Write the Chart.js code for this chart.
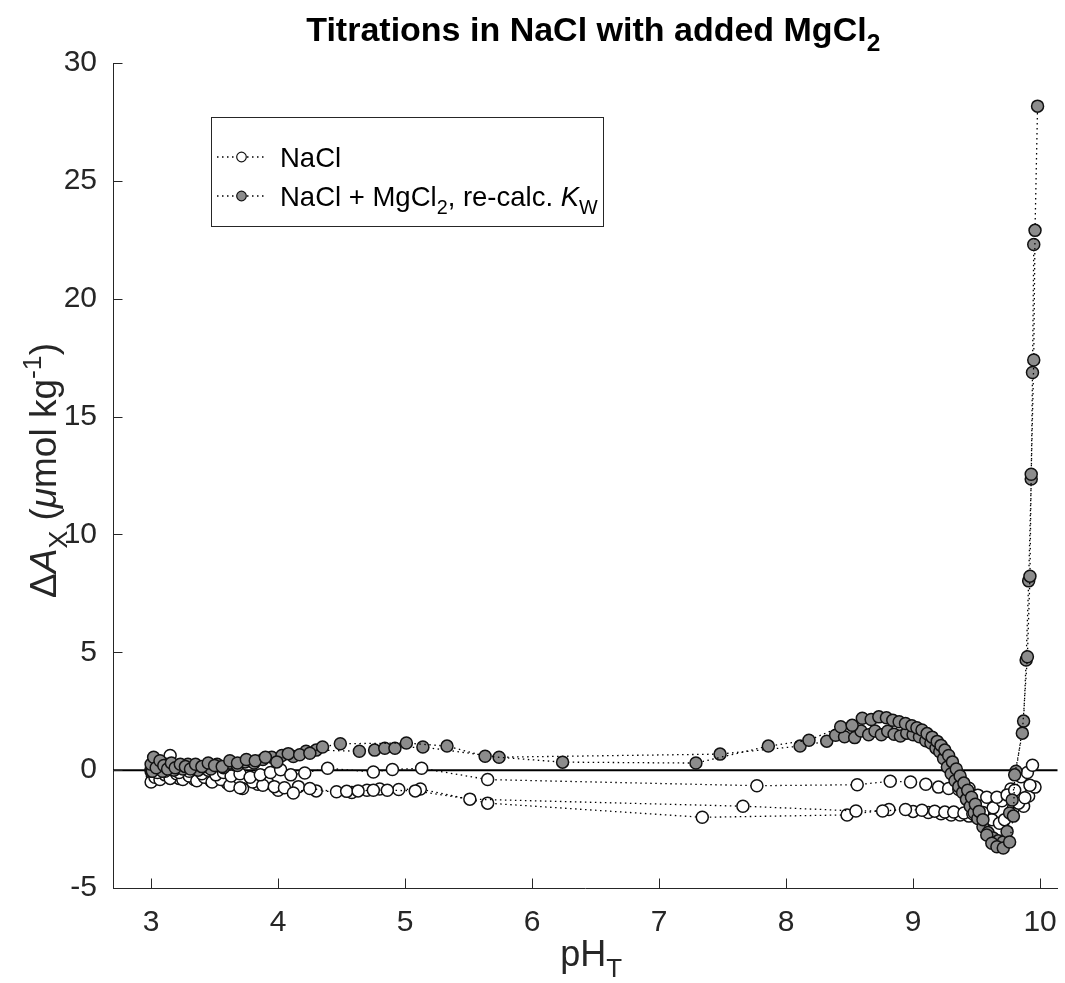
<!DOCTYPE html>
<html>
<head>
<meta charset="utf-8">
<script src="https://cdn.jsdelivr.net/npm/chart.js@4.4.1/dist/chart.umd.min.js"></script>
<style>
  html, body { margin: 0; padding: 0; background: #fff; }
  canvas { display: block; }
</style>
</head>
<body>
<canvas id="titration" width="1065" height="983"></canvas>
<script>
// pH_T values and Delta A_X (umol/kg) for each titration run
const naclX1 = [3.00, 3.02, 3.05, 3.08, 3.11, 3.15, 3.18, 3.22, 3.26, 3.30, 3.35, 3.40, 3.45, 3.51, 3.57, 3.63, 3.70, 3.78, 3.86, 3.94,
  4.02, 4.10, 4.21, 4.39, 4.75, 4.90, 5.13, 5.65, 7.77, 8.56, 8.82, 8.98, 9.10, 9.20, 9.28, 9.36, 9.44, 9.51, 9.58, 9.66,
  9.74, 9.80, 9.85, 9.90, 9.94];
const naclY1 = [-0.05, 0.15, -0.10, 0.10, -0.05, 0.62, 0.05, -0.10, 0.10, -0.05, 0.05, -0.15, 0.00, -0.20, -0.10, -0.25, -0.15, -0.30, -0.20, -0.10,
  0.02, -0.20, -0.12, 0.08, -0.08, 0.03, 0.08, -0.40, -0.66, -0.62, -0.47, -0.50, -0.60, -0.72, -0.78, -0.82, -0.77, -1.06, -1.15, -1.15,
  -1.05, -0.85, -0.28, -0.10, 0.21];

const naclX2 = [3.00, 3.03, 3.07, 3.11, 3.15, 3.20, 3.25, 3.30, 3.36, 3.42, 3.48, 3.55, 3.62, 3.70, 3.80, 3.88, 3.97, 4.05, 4.12, 4.25,
  4.46, 4.54, 4.63, 4.75, 4.86, 5.08, 5.51, 7.66, 8.55, 8.76, 8.94, 9.07, 9.17, 9.25, 9.32, 9.40, 9.47, 9.55, 9.63, 9.70,
  9.77, 9.83, 9.88, 9.92];
const naclY2 = [-0.50, -0.30, -0.40, -0.20, -0.35, -0.15, -0.40, -0.25, -0.45, -0.30, -0.50, -0.40, -0.65, -0.75, -0.50, -0.64, -0.70, -0.75, -0.97, -0.78,
  -0.92, -0.90, -0.88, -0.85, -0.85, -0.88, -1.23, -1.53, -1.73, -1.73, -1.67, -1.70, -1.74, -1.78, -1.78, -1.82, -1.85, -1.80, -1.60, -1.30,
  -0.80, -1.40, -1.17, -0.64];

const naclX3 = [3.01, 3.04, 3.08, 3.12, 3.17, 3.22, 3.28, 3.34, 3.40, 3.47, 3.54, 3.60, 3.72, 3.84, 3.92, 4.00, 4.16, 4.30, 4.58, 4.70,
  4.80, 4.95, 5.12, 5.65, 7.34, 8.48, 8.81, 9.00, 9.12, 9.22, 9.30, 9.37, 9.44, 9.50, 9.57, 9.62, 9.68, 9.72, 9.79, 9.87,
  9.91, 9.96];
const naclY3 = [-0.25, -0.10, -0.30, -0.05, -0.20, -0.35, -0.15, -0.40, -0.25, -0.45, -0.30, -0.55, -0.78, -0.60, -0.55, -0.85, -0.70, -0.88, -0.95, -0.85,
  -0.80, -0.82, -0.80, -1.40, -2.00, -1.90, -1.67, -1.75, -1.80, -1.85, -1.90, -1.90, -1.95, -2.00, -2.05, -2.10, -2.25, -2.10, -1.60, -1.53,
  -1.10, -0.72];

const mgX1 = [3.00, 3.02, 3.04, 3.07, 3.10, 3.13, 3.16, 3.19, 3.23, 3.27, 3.31, 3.35, 3.40, 3.45, 3.50, 3.56, 3.62, 3.68, 3.75, 3.82,
  3.90, 3.99, 4.08, 4.17, 4.25, 4.35, 4.49, 5.01, 5.33, 5.63, 6.24, 7.29, 7.86, 8.18, 8.43, 8.52, 8.60, 8.67, 8.73, 8.79,
  8.84, 8.89, 8.94, 8.99, 9.03, 9.07, 9.11, 9.15, 9.19, 9.22, 9.25, 9.28, 9.31, 9.34, 9.37, 9.40, 9.43, 9.46, 9.49, 9.52,
  9.55, 9.58, 9.62, 9.66, 9.71, 9.76, 9.79, 9.80, 9.86, 9.90, 9.92, 9.93, 9.95, 9.96, 9.98];
const mgY1 = [0.25, 0.55, 0.10, 0.40, 0.20, 0.05, 0.30, 0.10, 0.25, 0.15, 0.05, 0.25, 0.15, 0.30, 0.20, 0.15, 0.40, 0.30, 0.45, 0.40,
  0.55, 0.35, 0.70, 0.65, 0.72, 0.98, 1.12, 1.15, 1.02, 0.59, 0.34, 0.30, 1.02, 1.27, 1.84, 1.90, 2.20, 2.15, 2.26, 2.22,
  2.12, 2.05, 1.98, 1.88, 1.80, 1.70, 1.55, 1.40, 1.22, 1.05, 0.85, 0.62, 0.35, 0.05, -0.25, -0.55, -0.85, -1.15, -1.45, -1.75,
  -2.10, -2.75, -3.10, -3.25, -3.30, -3.05, -1.95, -0.20, 1.57, 4.81, 8.23, 12.55, 17.40, 22.90, 28.17];

const mgX2 = [3.00, 3.01, 3.03, 3.06, 3.09, 3.12, 3.15, 3.18, 3.21, 3.25, 3.29, 3.33, 3.37, 3.42, 3.47, 3.52, 3.57, 3.62, 3.68, 3.74,
  3.81, 3.88, 3.95, 4.03, 4.12, 4.22, 4.30, 4.64, 4.76, 4.84, 4.92, 5.14, 5.74, 7.48, 8.11, 8.32, 8.39, 8.46, 8.54, 8.59,
  8.65, 8.70, 8.75, 8.80, 8.85, 8.90, 8.95, 9.00, 9.05, 9.10, 9.14, 9.18, 9.21, 9.24, 9.27, 9.30, 9.33, 9.36, 9.39, 9.42,
  9.45, 9.48, 9.51, 9.55, 9.59, 9.63, 9.67, 9.71, 9.74, 9.76, 9.78, 9.81, 9.87, 9.89, 9.91, 9.93, 9.94, 9.95];
const mgY2 = [0.05, -0.05, 0.30, 0.15, -0.05, 0.25, 0.10, 0.00, 0.20, 0.05, 0.25, 0.10, 0.00, 0.15, 0.05, 0.25, 0.10, 0.30, 0.20, 0.35,
  0.30, 0.45, 0.55, 0.62, 0.58, 0.80, 0.85, 0.80, 0.85, 0.93, 0.93, 0.98, 0.55, 0.68, 1.02, 1.23, 1.48, 1.42, 1.38, 1.66,
  1.50, 1.66, 1.50, 1.65, 1.52, 1.45, 1.57, 1.50, 1.42, 1.25, 1.15, 0.93, 0.78, 0.49, 0.13, -0.15, -0.45, -0.70, -0.95, -1.24,
  -1.53, -1.81, -2.05, -2.40, -2.65, -2.88, -3.00, -3.05, -2.60, -1.82, -1.27, -0.05, 2.08, 4.67, 8.03, 12.35, 16.87, 22.30];

const xTicks = [3, 4, 5, 6, 7, 8, 9, 10];
const yTicks = [-5, 0, 5, 10, 15, 20, 25, 30];

const FONT = '"Liberation Sans", Arial, Helvetica, sans-serif';
const INK = '#262626';
const GREY_FILL = '#8c8c8c';

const toPoints = (xs, ys) => xs.map((x, i) => ({ x, y: ys[i] }));

function runDataset(xs, ys, fill, order) {
  return {
    data: toPoints(xs, ys),
    showLine: true,
    borderColor: '#000',
    borderWidth: 1.3,
    borderDash: [1.5, 3.5],
    pointRadius: 6,
    pointBorderWidth: 1.5,
    pointBackgroundColor: fill,
    pointBorderColor: '#111',
    tension: 0,
    order
  };
}

// draws a run of text pieces; pieces may be italic, subscript or superscript
function richText(ctx, pieces, x, y, size, bold, align) {
  const fontOf = p => {
    const s = (p.sub || p.sup) ? size * 0.72 : size;
    return (p.it ? 'italic ' : '') + (bold ? 'bold ' : '') + s + 'px ' + FONT;
  };
  let total = 0;
  pieces.forEach(p => { ctx.font = fontOf(p); total += ctx.measureText(p.t).width; });
  let cx = align === 'left' ? x : x - total / 2;
  ctx.textBaseline = 'alphabetic';
  ctx.textAlign = 'left';
  pieces.forEach(p => {
    ctx.font = fontOf(p);
    const dy = p.sub ? size * 0.3 : p.sup ? -size * 0.4 : 0;
    ctx.fillText(p.t, cx, y + dy);
    cx += ctx.measureText(p.t).width;
  });
}

const decorations = {
  id: 'decorations',
  beforeDatasetsDraw(chart) {
    const { ctx, chartArea: a, scales: { y } } = chart;
    const y0 = y.getPixelForValue(0);
    ctx.save();
    ctx.strokeStyle = '#000';
    ctx.lineWidth = 2;
    ctx.beginPath();
    ctx.moveTo(a.left, y0);
    ctx.lineTo(a.right, y0);
    ctx.stroke();
    ctx.restore();
  },
  afterDraw(chart) {
    const { ctx, chartArea: a, scales: { x, y } } = chart;
    ctx.save();
    // inward tick marks
    ctx.strokeStyle = INK;
    ctx.lineWidth = 1;
    ctx.beginPath();
    xTicks.forEach(v => {
      const px = Math.round(x.getPixelForValue(v)) + 0.5;
      ctx.moveTo(px, a.bottom);
      ctx.lineTo(px, a.bottom - 9.5);
    });
    yTicks.forEach(v => {
      const py = Math.round(y.getPixelForValue(v)) + 0.5;
      ctx.moveTo(a.left, py);
      ctx.lineTo(a.left + 9.5, py);
    });
    ctx.stroke();

    ctx.fillStyle = '#000';
    // title
    richText(ctx, [{ t: 'Titrations in NaCl with added MgCl' }, { t: '2', sub: true }],
      (a.left + a.right) / 2 + 8, 41, 34, true);

    ctx.fillStyle = INK;
    // x label
    richText(ctx, [{ t: 'pH' }, { t: 'T', sub: true }], (a.left + a.right) / 2 + 6, 966, 36, false);

    // y label
    ctx.save();
    ctx.translate(56, (a.top + a.bottom) / 2 - 5);
    ctx.rotate(-Math.PI / 2);
    richText(ctx, [
      { t: '\u0394' }, { t: 'A', it: true }, { t: 'X', sub: true },
      { t: ' (' }, { t: '\u03bc', it: true }, { t: 'mol kg' }, { t: '-1', sup: true }, { t: ')' }
    ], 0, 0, 37, false);
    ctx.restore();

    // legend box
    const bx = 211, by = 117, bw = 392, bh = 109;
    ctx.fillStyle = '#fff';
    ctx.fillRect(bx, by, bw, bh);
    ctx.strokeStyle = INK;
    ctx.lineWidth = 1;
    ctx.strokeRect(bx + 0.5, by + 0.5, bw, bh);

    const rows = [
      { yy: 157, fill: '#fff', text: [{ t: 'NaCl' }] },
      { yy: 196, fill: GREY_FILL, text: [
        { t: 'NaCl + MgCl' }, { t: '2', sub: true }, { t: ', re-calc. ' }, { t: 'K', it: true }, { t: 'W', sub: true }
      ] }
    ];
    rows.forEach(r => {
      ctx.strokeStyle = '#000';
      ctx.lineWidth = 1.3;
      ctx.setLineDash([1.5, 3.5]);
      ctx.beginPath();
      ctx.moveTo(217, r.yy);
      ctx.lineTo(266, r.yy);
      ctx.stroke();
      ctx.setLineDash([]);
      ctx.beginPath();
      ctx.arc(241.5, r.yy, 4.8, 0, Math.PI * 2);
      ctx.fillStyle = r.fill;
      ctx.fill();
      ctx.lineWidth = 1.2;
      ctx.strokeStyle = '#111';
      ctx.stroke();
      ctx.fillStyle = '#000';
      richText(ctx, r.text, 280, r.yy + 10, 27.5, false, 'left');
    });
    ctx.restore();
  }
};

const tickStyle = { font: { family: FONT, size: 30 }, color: INK };
const noPadding = s => { s.paddingLeft = 0; s.paddingRight = 0; s.paddingTop = 0; s.paddingBottom = 0; };

new Chart(document.getElementById('titration'), {
  type: 'scatter',
  data: {
    datasets: [
      runDataset(naclX1, naclY1, '#fff', 2),
      runDataset(naclX2, naclY2, '#fff', 2),
      runDataset(naclX3, naclY3, '#fff', 2),
      runDataset(mgX1, mgY1, GREY_FILL, 1),
      runDataset(mgX2, mgY2, GREY_FILL, 1)
    ]
  },
  options: {
    responsive: false,
    animation: false,
    layout: { padding: { top: 63, right: 3, bottom: 0, left: 0 } },
    plugins: { legend: { display: false }, tooltip: { enabled: false }, title: { display: false } },
    scales: {
      x: {
        type: 'linear',
        min: 2.7,
        max: 10.137,
        afterBuildTicks: s => { s.ticks = xTicks.map(v => ({ value: v })); },
        afterFit: s => { s.height = 95; noPadding(s); },
        grid: { display: false, drawTicks: false },
        border: { color: INK, width: 1 },
        ticks: { ...tickStyle, padding: 17, maxRotation: 0 }
      },
      y: {
        type: 'linear',
        min: -5,
        max: 30,
        afterBuildTicks: s => { s.ticks = yTicks.map(v => ({ value: v })); },
        afterFit: s => { s.width = 113; noPadding(s); },
        grid: { display: false, drawTicks: false },
        border: { color: INK, width: 1 },
        ticks: { ...tickStyle, padding: 16 }
      }
    }
  },
  plugins: [decorations]
});
</script>
</body>
</html>
